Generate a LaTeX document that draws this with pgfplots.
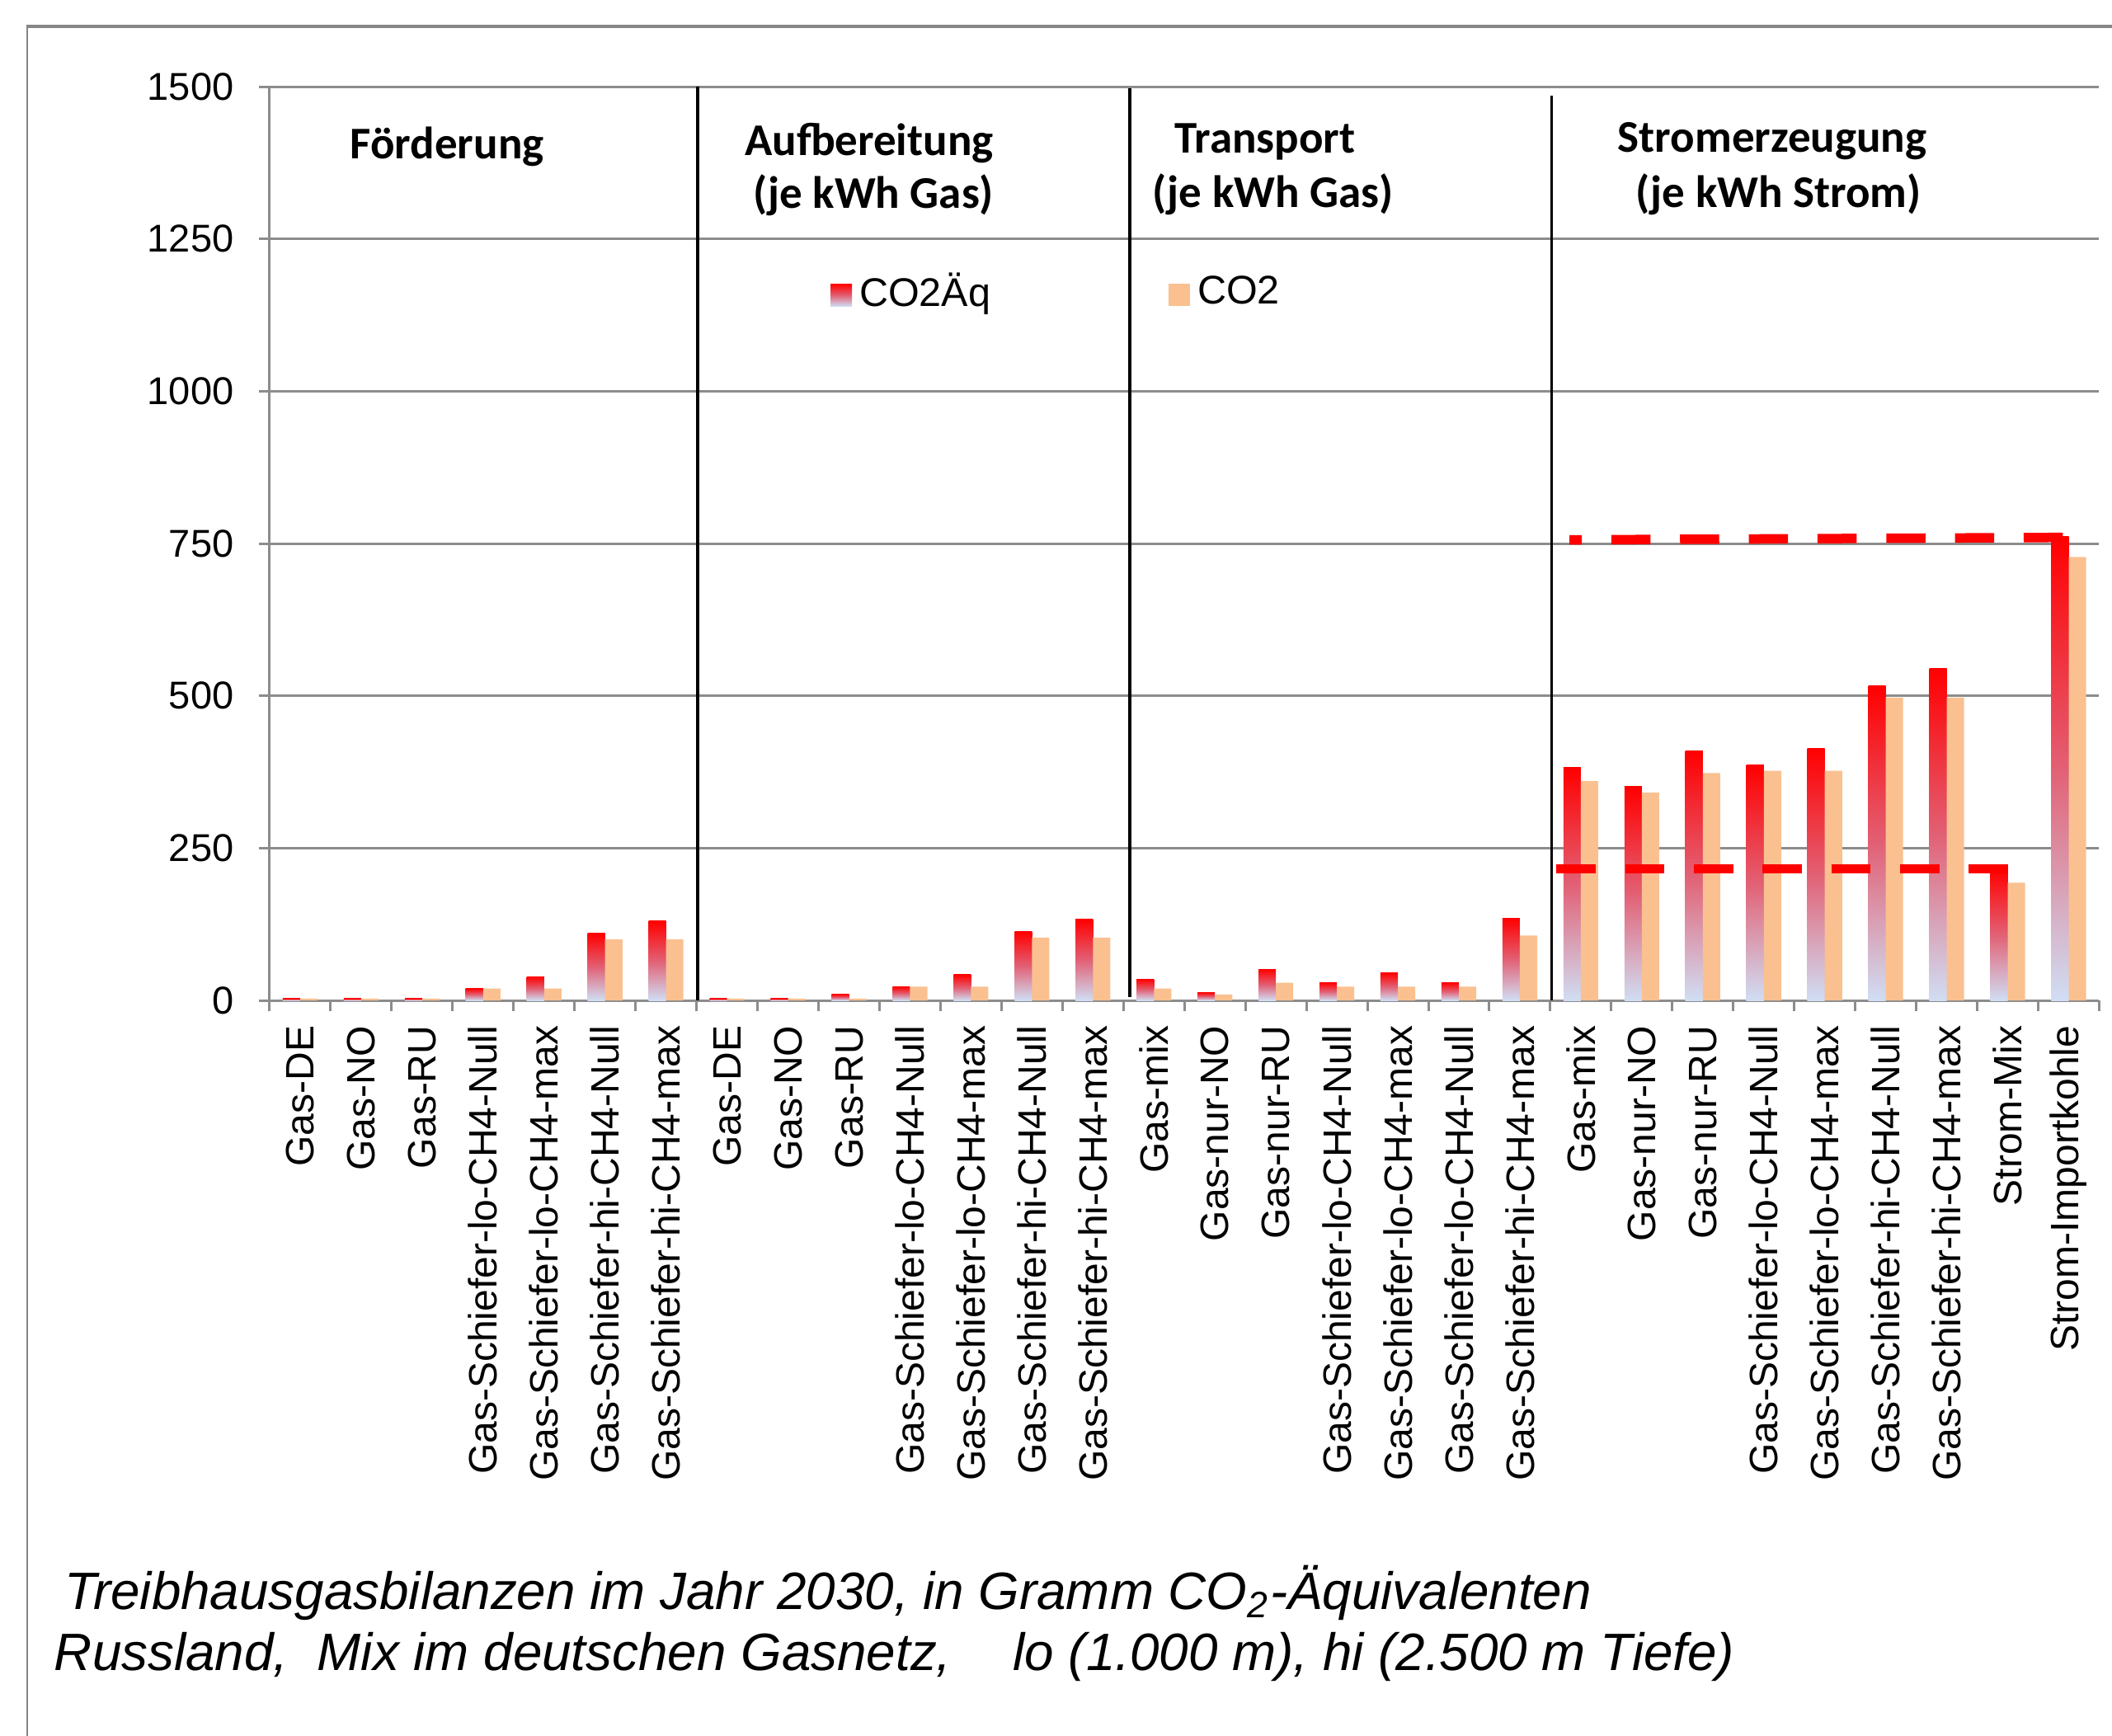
\documentclass[border=0pt]{standalone}
\usepackage{pgfplots}
\usepackage{pgfplotstable}
\pgfplotsset{compat=1.18}
\usepackage{fontspec}
\setmainfont{Liberation Sans}
\newfontfamily\carlito{Carlito}
\definecolor{axgray}{RGB}{140,140,140}
\definecolor{framegray}{RGB}{134,134,134}
\definecolor{co2col}{RGB}{250,192,144}
\definecolor{gradtop}{RGB}{255,0,0}
\definecolor{gradmid}{RGB}{226,96,116}
\definecolor{gradbot}{RGB}{208,222,244}
\definecolor{dashred}{RGB}{255,0,0}
\pgfplotstableread{
x aeq co2
0 3 3
1 3 3
2 3 3
3 19.5 19.5
4 39 19.5
5 110 100
6 130 100
7 3 3
8 3 3
9 10 3
10 22.5 22.5
11 42 22.5
12 113 103
13 133 103
14 35 19.5
15 13 9.5
16 51 29
17 29 22.5
18 45 22.5
19 29 22.5
20 135 106.5
21 382 360
22 351 341
23 410 373
24 386 377
25 414 377
26 516 497
27 545 497
28 216 193
29 762 728
}\datatable
\pgfplotsset{
  aeqbar/.style={ybar, bar width=0.285, bar shift=-0.1425, draw=none,
    top color=gradtop, bottom color=gradbot, middle color=gradmid},
}
\begin{document}
\begin{tikzpicture}
\useasboundingbox (-65.4pt,-178.4pt) rectangle (446.8pt,242.6pt);
\draw[framegray, line width=0.5pt] (-58.8pt,-185pt) -- (-58.8pt,236.2pt);
\draw[framegray, line width=0.7pt] (-59pt,236.2pt) -- (460pt,236.2pt);
\begin{axis}[
  at={(0pt,0pt)}, anchor=south west,
  scale only axis, width=443.7pt, height=221.6pt,
  xmin=-0.5, xmax=29.5, ymin=0, ymax=1500,
  axis lines*=left,
  axis line style={-, axgray, line width=0.6pt},
  ytick={0,250,...,1500},
  ymajorgrids,
  major grid style={axgray, line width=0.6pt},
  tick align=outside,
  tick style={axgray, line width=0.6pt},
  major tick length=2.6pt,
  xtick={-0.5,0.5,...,29.5},
  x tick label as interval,
  xticklabels={Gas-DE,Gas-NO,Gas-RU,Gas-Schiefer-lo-CH4-Null,Gas-Schiefer-lo-CH4-max,Gas-Schiefer-hi-CH4-Null,Gas-Schiefer-hi-CH4-max,
    Gas-DE,Gas-NO,Gas-RU,Gas-Schiefer-lo-CH4-Null,Gas-Schiefer-lo-CH4-max,Gas-Schiefer-hi-CH4-Null,Gas-Schiefer-hi-CH4-max,
    Gas-mix,Gas-nur-NO,Gas-nur-RU,Gas-Schiefer-lo-CH4-Null,Gas-Schiefer-lo-CH4-max,Gas-Schiefer-lo-CH4-Null,Gas-Schiefer-hi-CH4-max,
    Gas-mix,Gas-nur-NO,Gas-nur-RU,Gas-Schiefer-lo-CH4-Null,Gas-Schiefer-lo-CH4-max,Gas-Schiefer-hi-CH4-Null,Gas-Schiefer-hi-CH4-max,Strom-Mix,Strom-Importkohle},
  x tick label style={rotate=90, anchor=east, font=\fontsize{9.6}{11}\selectfont},
  y tick label style={font=\fontsize{9.4}{11}\selectfont, xshift=-2.6pt},
  /pgf/number format/assume math mode=true,
  /pgf/number format/set thousands separator={},
  clip=false,
  legend columns=2,
  legend style={at={(0.3061,0.7744)}, anchor=west, draw=none, fill=none, inner sep=0pt,
    font=\fontsize{9.7}{11}\selectfont,
    nodes={inner sep=0pt},
    /tikz/every odd column/.append style={column sep=1.8pt},
    /tikz/every even column/.append style={column sep=43.2pt}},
]
\addplot[aeqbar, x filter/.expression={abs(x-0)<0.1 ? x : nan},
  legend image code/.code={\fill[top color=gradtop, bottom color=gradbot, middle color=gradmid] (0pt,-3.3pt) rectangle (5.2pt,2.1pt);}]
  table[x=x, y=aeq] {\datatable};
\addlegendentry{CO2Äq}
\pgfplotsinvokeforeach{1,...,29}{
  \addplot[forget plot, aeqbar, x filter/.expression={abs(x-#1)<0.1 ? x : nan}]
    table[x=x, y=aeq] {\datatable};
}
\addplot[ybar, bar width=0.285, bar shift=0.1425, draw=none, fill=co2col,
  legend image code/.code={\fill[co2col] (0pt,-3.3pt) rectangle (5.2pt,2.1pt);}]
  table[x=x, y=co2] {\datatable};
\addlegendentry{CO2}
% dashed reference lines
\addplot[forget plot, dashred, line width=2.3pt, dash pattern=on 9.5pt off 7.17pt, dash phase=6.54pt]
  coordinates {(20.815,756) (21,756) (22,756.5) (23,757) (24,757.5) (25,758) (26,758.5) (27,759) (28,759.5) (29,760)};
\addplot[forget plot, dashred, line width=2.3pt, dash pattern=on 9.5pt off 7.17pt]
  coordinates {(20.6,216) (21,216) (22,216) (23,216) (24,216) (25,216) (26,216) (27,216) (28,216)};
% group separators
\addplot[forget plot, black, line width=0.75pt] coordinates {(6.52,0) (6.52,1500)};
\addplot[forget plot, black, line width=0.75pt] coordinates {(13.6,6) (13.6,1497)};
\addplot[forget plot, black, line width=0.75pt] coordinates {(20.52,0) (20.52,1485)};
% group titles
\node[font=\carlito\bfseries\fontsize{11}{13}\selectfont, anchor=base] at (axis cs:2.41,1381) {Förderung};
\node[font=\carlito\bfseries\fontsize{11}{13}\selectfont, anchor=base] at (axis cs:9.33,1387) {Aufbereitung};
\node[font=\carlito\bfseries\fontsize{11}{13}\selectfont, anchor=base] at (axis cs:9.40,1300) {(je kWh Gas)};
\node[font=\carlito\bfseries\fontsize{11}{13}\selectfont, anchor=base] at (axis cs:15.82,1391) {Transport};
\node[font=\carlito\bfseries\fontsize{11}{13}\selectfont, anchor=base] at (axis cs:15.95,1302) {(je kWh Gas)};
\node[font=\carlito\bfseries\fontsize{11}{13}\selectfont, anchor=base] at (axis cs:24.14,1392) {Stromerzeugung};
\node[font=\carlito\bfseries\fontsize{11}{13}\selectfont, anchor=base] at (axis cs:24.24,1302) {(je kWh Strom)};
\end{axis}
\node[anchor=base west, inner sep=0pt, font=\itshape\fontsize{12.75}{15}\selectfont] at (-49.8pt,-147.6pt)
  {Treibhausgasbilanzen im Jahr 2030, in Gramm CO\textsubscript{2}-Äquivalenten};
\node[anchor=base west, inner sep=0pt, font=\itshape\fontsize{12.75}{15}\selectfont] at (-52.4pt,-162.4pt)
  {Russland,\ \ Mix im deutschen Gasnetz,\hspace{15pt}lo (1.000 m), hi (2.500 m Tiefe)};
\end{tikzpicture}
\end{document}
